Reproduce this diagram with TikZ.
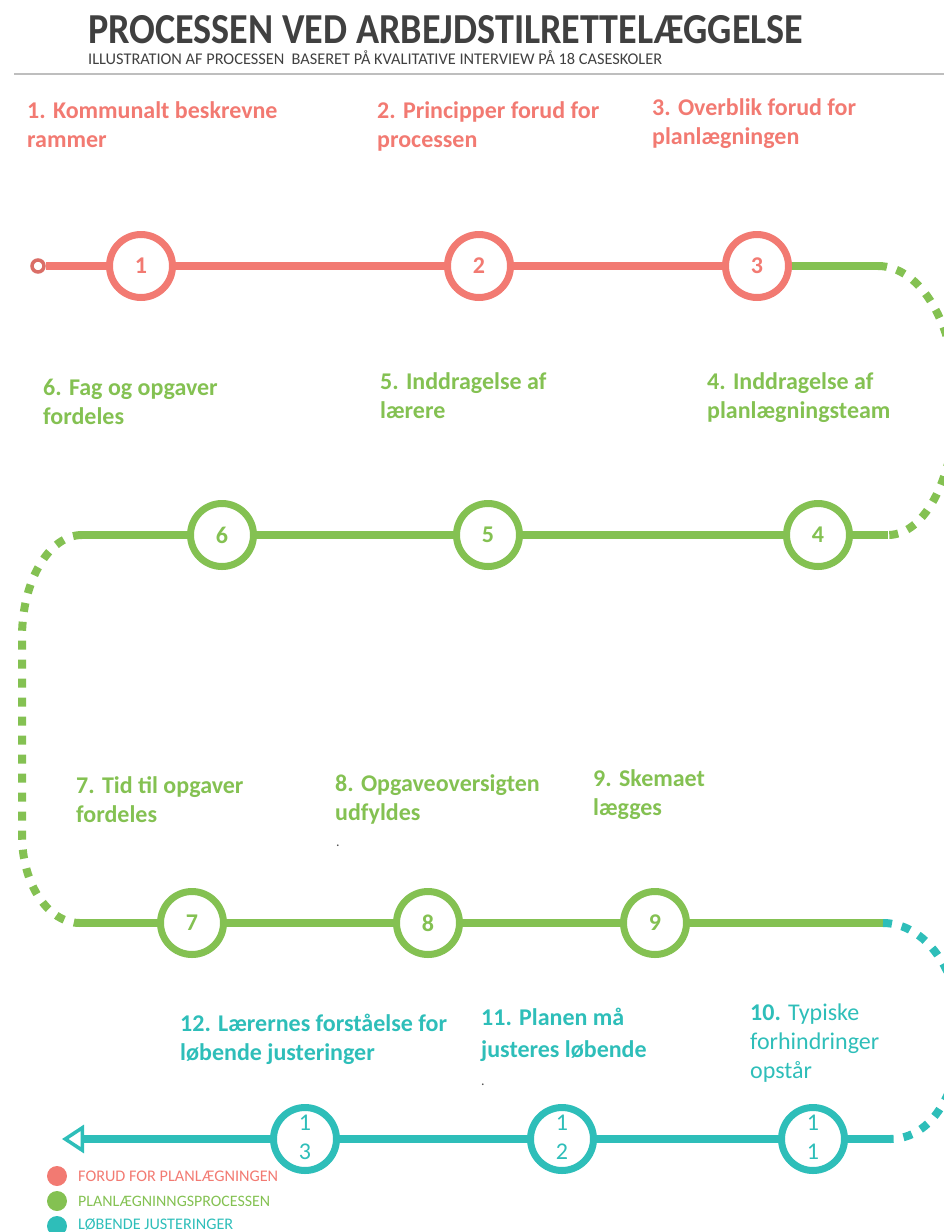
\documentclass[tikz,border=0pt]{standalone}
\usepackage{fontspec}
\usepackage{graphicx}
\setmainfont{Carlito}
\usetikzlibrary{arrows.meta}
\definecolor{cred}{RGB}{242,122,114}
\definecolor{cgreen}{RGB}{132,193,82}
\definecolor{cteal}{RGB}{46,190,185}
\definecolor{ctitle}{RGB}{64,64,64}
\definecolor{cdot}{RGB}{80,80,80}
\definecolor{crule}{RGB}{190,190,190}
\tikzset{
  ring/.style={circle, draw=#1, text=#1, fill=white, line width=7pt, minimum size=63pt, inner sep=0pt,
     font=\fontsize{24}{28}\selectfont\bfseries},
  ringtwo/.style={circle, draw=#1, text=#1, fill=white, line width=7pt, minimum size=63pt, inner sep=0pt,
     font=\fontsize{24}{29}\selectfont},
  solidline/.style={draw=#1, line width=7.5pt},
  dashline/.style={draw=#1, line width=8pt, dash pattern=on 9pt off 10pt},
  lab/.style={anchor=base west, inner sep=0pt, text=#1, font=\fontsize{24}{29}\selectfont\bfseries},
  legdot/.style={circle, fill=#1, minimum size=20pt, inner sep=0pt},
  legtext/.style={anchor=base west, inner sep=0pt, text=#1, font=\fontsize{16}{16}\selectfont},
  dotnote/.style={anchor=base west, inner sep=0pt, text=cdot, font=\fontsize{14}{14}\selectfont},
}
\newcommand{\twol}[2]{\begin{tabular}[t]{@{}l@{}}#1\\#2\end{tabular}}
\newcommand{\twodig}[2]{\begin{tabular}{@{}c@{}}#1\\#2\end{tabular}}
\begin{document}
\begin{tikzpicture}[x=1pt,y=-1pt]
\useasboundingbox (0,0) rectangle (944,1232);
\clip (0,0) rectangle (944,1232);

% header
\node[anchor=base west, inner sep=0pt, text=ctitle] (title) at (88,43)
  {\resizebox{715pt}{28pt}{\bfseries PROCESSEN VED ARBEJDSTILRETTELÆGGELSE}};
\node[anchor=base west, inner sep=0pt, text=ctitle] (subtitle) at (88,64)
  {\resizebox{574pt}{!}{\fontsize{14}{14}\selectfont ILLUSTRATION AF PROCESSEN\ \ BASERET PÅ KVALITATIVE INTERVIEW PÅ 18 CASESKOLER}};
\coordinate (r0) at (14,74);
\coordinate (r1) at (944,74);
\draw[crule, line width=1.5pt] (r0) -- (r1);

% coordinates of line ends
\coordinate (e1) at (878,266);
\coordinate (e2) at (888,535);
\coordinate (e3) at (82,535);
\coordinate (e4) at (80,923);
\coordinate (e5) at (883,923);
\coordinate (e6) at (890,1139);
\coordinate (tip) at (62,1139);

% row 1
\node[circle, draw=cred!90!black, fill=white, line width=3.5pt, minimum size=12pt, inner sep=0pt] (s0) at (38,266) {};
\node[ring=cred] (c1) at (141,266) {1};
\node[ring=cred] (c2) at (479,266) {2};
\node[ring=cred] (c3) at (757,266) {3};
\draw[solidline=cred] (s0) -- (c1);
\draw[solidline=cred] (c1) -- (c2);
\draw[solidline=cred] (c2) -- (c3);
\draw[solidline=cgreen] (c3) -- (e1);
\draw[dashline=cgreen] (e1) .. controls (921,266) and (956,326) .. (956,400)
   .. controls (956,474) and (926,535) .. (e2);

% row 2
\node[ring=cgreen] (c4) at (818,535) {4};
\node[ring=cgreen] (c5) at (488,535) {5};
\node[ring=cgreen] (c6) at (222,535) {6};
\draw[solidline=cgreen] (e2) -- (c4);
\draw[solidline=cgreen] (c4) -- (c5);
\draw[solidline=cgreen] (c5) -- (c6);
\draw[solidline=cgreen] (c6) -- (e3);
\draw[dashline=cgreen] (e3) .. controls (49,535) and (22,581) .. (22,637)
   -- (22,835) .. controls (22,884) and (48,923) .. (e4);

% row 3
\node[ring=cgreen] (c7) at (192,923) {7};
\node[ring=cgreen] (c8) at (428,923) {8};
\node[ring=cgreen] (c9) at (655,923) {9};
\draw[solidline=cgreen] (e4) -- (c7);
\draw[solidline=cgreen] (c7) -- (c8);
\draw[solidline=cgreen] (c8) -- (c9);
\draw[solidline=cgreen] (c9) -- (e5);
\draw[dashline=cteal] (e5) .. controls (925,923) and (960,971) .. (960,1031)
   .. controls (960,1091) and (932,1139) .. (e6);

% row 4
\node[ringtwo=cteal] (c11) at (813,1139) {\twodig{1}{1}};
\node[ringtwo=cteal] (c12) at (562,1139) {\twodig{1}{2}};
\node[ringtwo=cteal] (c13) at (305,1139) {\twodig{1}{3}};
\draw[solidline=cteal] (e6) -- (c11);
\draw[solidline=cteal] (c11) -- (c12);
\draw[solidline=cteal] (c12) -- (c13);
\draw[solidline=cteal, -{Triangle[open, length=22pt, width=28pt, line width=3.5pt]}] (c13) -- (tip);

% labels
\node[lab=cred] (l1) at (27,118) {\twol{1. Kommunalt beskrevne}{rammer}};
\node[lab=cred] (l2) at (377,118) {\twol{2. Principper forud for}{processen}};
\node[lab=cred] (l3) at (652,115) {\twol{3. Overblik forud for}{planlægningen}};
\node[lab=cgreen] (l6) at (43,395) {\twol{6. Fag og opgaver}{fordeles}};
\node[lab=cgreen] (l5) at (380,389) {\twol{5. Inddragelse af}{lærere}};
\node[lab=cgreen] (l4) at (707,389) {\twol{4. Inddragelse af}{planlægningsteam}};
\node[lab=cgreen] (l7) at (76,793) {\twol{7. Tid til opgaver}{fordeles}};
\node[lab=cgreen] (l8) at (335,791) {\twol{8. Opgaveoversigten}{udfyldes}};
\node[lab=cgreen] (l9) at (593,786) {\twol{9. Skemaet}{lægges}};
\node[lab=cteal] (l12) at (180,1031) {\twol{12. Lærernes forståelse for}{løbende justeringer}};
\node[lab=cteal] (l11) at (481,1025) {\begin{tabular}[t]{@{}l@{}}11. Planen må\\[3pt]justeres løbende\end{tabular}};
\node[lab=cteal, font=\fontsize{24}{29}\selectfont] (l10) at (750,1020)
  {\begin{tabular}[t]{@{}l@{}}\textbf{10.} Typiske\\forhindringer\\opstår\end{tabular}};
\node[dotnote] (d8) at (336,846) {.};
\node[dotnote] (d11) at (481,1085) {.};

% legend
\node[legdot=cred] (g1) at (57,1176) {};
\node[legdot=cgreen] (g2) at (57,1201) {};
\node[legdot=cteal] (g3) at (57,1226) {};
\node[legtext=cred] (t1) at (78,1181) {\resizebox{200pt}{!}{FORUD FOR PLANLÆGNINGEN}};
\node[legtext=cgreen] (t2) at (78,1206) {\resizebox{192pt}{!}{PLANLÆGNINNGSPROCESSEN}};
\node[legtext=cteal] (t3) at (78,1229) {\resizebox{155pt}{!}{LØBENDE JUSTERINGER}};
\end{tikzpicture}
\end{document}
